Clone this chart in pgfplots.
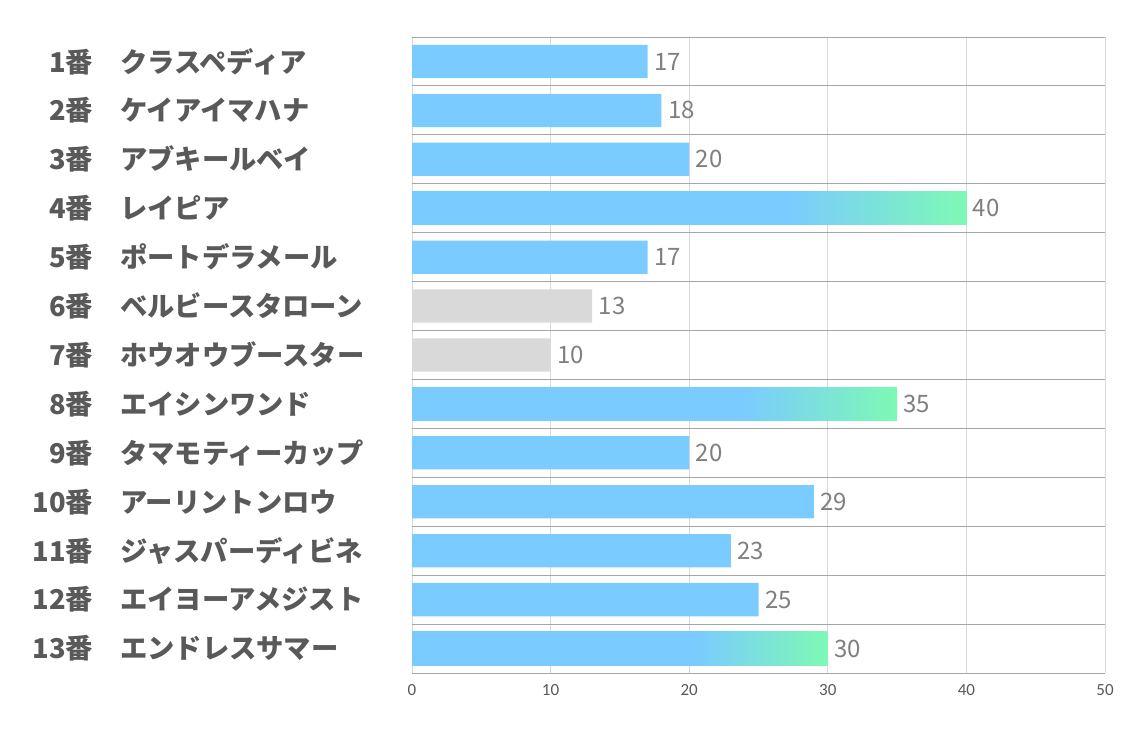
\documentclass[border=0pt]{standalone}
\usepackage{fontspec}
\setmainfont{Noto Sans CJK JP}
\newfontfamily\tickfont{Carlito}
\usepackage{pgfplots}
\pgfplotsset{compat=1.18}
\definecolor{barblue}{HTML}{7ACBFF}
\definecolor{bargreen}{HTML}{7DF9B4}
\definecolor{bargray}{HTML}{D9D9D9}
\definecolor{labgray}{HTML}{595959}
\definecolor{valgray}{HTML}{7F7F7F}
\definecolor{hgrid}{HTML}{A6A6A6}
\definecolor{vgrid}{HTML}{D9D9D9}
\pgfdeclarehorizontalshading{bargrad}{100bp}{color(0bp)=(barblue); color(25bp)=(barblue); color(59bp)=(barblue); color(75bp)=(bargreen); color(100bp)=(bargreen)}
\newcommand{\lab}[2]{\makebox[56pt][r]{\bfseries #1番}\hspace{27pt}\makebox[260pt][l]{\bfseries #2}}
\begin{document}
\begin{tikzpicture}
\useasboundingbox (0,0) rectangle (1134pt,737pt);
\begin{axis}[
  at={(412pt,64pt)}, anchor=south west,
  scale only axis, width=693pt, height=636pt,
  xmin=0, xmax=50, ymin=0.5, ymax=13.5, y dir=reverse,
  xtick={0,10,20,30,40,50},
  ytick={1,...,13},
  minor ytick={0.5,1.5,...,13.5},
  yticklabels={
    \lab{1}{クラスペディア},
    \lab{2}{ケイアイマハナ},
    \lab{3}{アブキールベイ},
    \lab{4}{レイピア},
    \lab{5}{ポートデラメール},
    \lab{6}{ベルビースタローン},
    \lab{7}{ホウオウブースター},
    \lab{8}{エイシンワンド},
    \lab{9}{タマモティーカップ},
    \lab{10}{アーリントンロウ},
    \lab{11}{ジャスパーディビネ},
    \lab{12}{エイヨーアメジスト},
    \lab{13}{エンドレスサマー}},
  yticklabel style={anchor=west, xshift=-375pt, inner sep=0pt, font=\fontsize{27.3}{30}\selectfont, text=labgray},
  xticklabel style={font=\tickfont\fontsize{17}{20}\selectfont, text=labgray, yshift=-8pt},
  /pgf/number format/assume math mode=true,
  major tick length=0pt, minor tick length=0pt,
  xmajorgrids, yminorgrids,
  major x grid style={vgrid, line width=0.8pt},
  minor y grid style={hgrid, line width=0.9pt},
  axis line style={draw=none},
  xbar, bar width=0.68, bar shift=0pt,
  nodes near coords,
  nodes near coords style={anchor=west, xshift=3pt, text=valgray, font=\fontsize{24}{28}\selectfont},
  clip=false,
]
\addplot[draw=none, fill=barblue] coordinates {(17,1) (18,2) (20,3) (17,5) (20,9) (29,10) (23,11) (25,12)};
\addplot[draw=none, fill=bargray] coordinates {(13,6) (10,7)};
\addplot[draw=none, shading=bargrad] coordinates {(40,4)};
\addplot[draw=none, shading=bargrad] coordinates {(35,8)};
\addplot[draw=none, shading=bargrad] coordinates {(30,13)};
\end{axis}
\end{tikzpicture}
\end{document}
